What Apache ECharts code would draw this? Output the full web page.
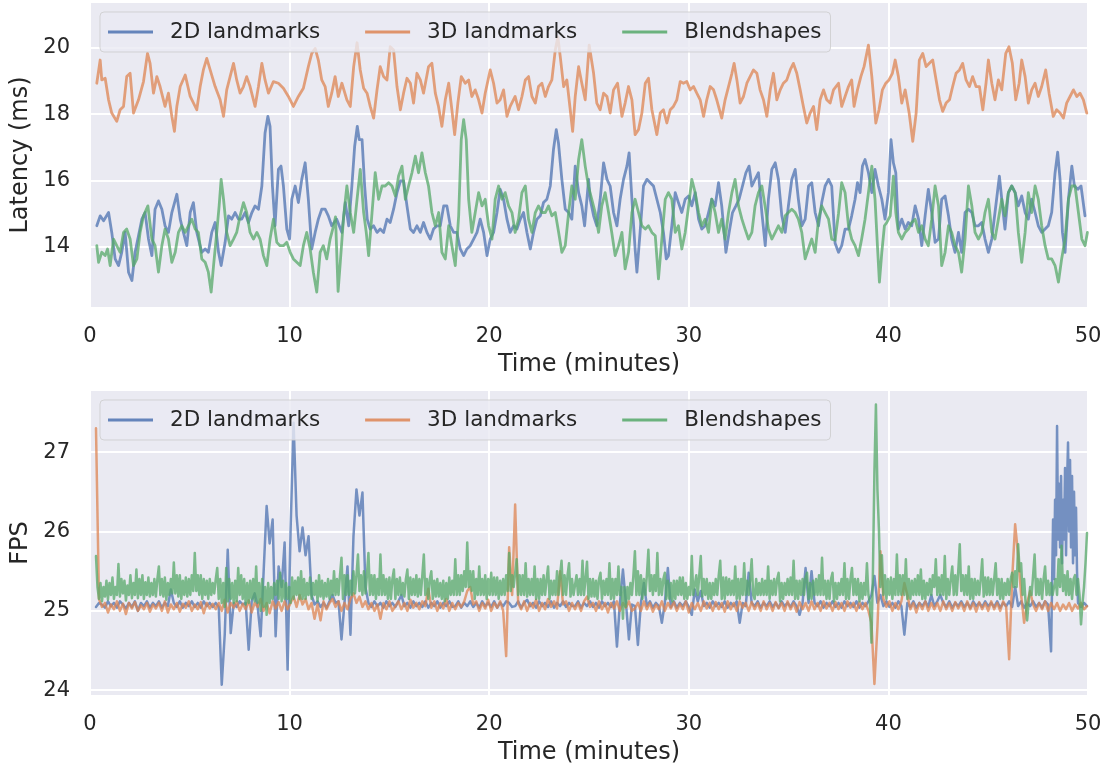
<!DOCTYPE html>
<html>
<head>
<meta charset="utf-8">
<script src="https://cdn.jsdelivr.net/npm/echarts@6/dist/echarts.min.js"></script>
<style>
html,body{margin:0;padding:0;background:#fff;}
#c{width:1107px;height:769px;}
</style>
</head>
<body>
<div id="c"></div>
<script>
// ---------- Top panel: latency (ms) ----------
const lat2dTime = [0.34,0.51,0.68,0.93,1.09,1.26,1.43,1.59,1.76,1.93,2.10,2.26,2.43,2.60,2.76,2.93,3.10,3.26,3.43,3.60,3.76,3.93,4.10,4.35,4.52,4.68,4.85,5.02,5.18,5.35,5.60,5.77,5.93,6.10,6.27,6.44,6.57,6.77,6.94,7.10,7.27,7.44,7.60,7.77,7.94,8.11,8.27,8.44,8.61,8.77,8.91,9.02,9.14,9.27,9.44,9.57,9.69,9.86,10.00,10.11,10.28,10.44,10.61,10.78,10.94,11.11,11.28,11.44,11.61,11.78,11.94,12.11,12.36,12.62,12.79,12.96,13.12,13.26,13.39,13.49,13.63,13.76,13.89,14.04,14.21,14.38,14.54,14.71,14.88,15.04,15.21,15.38,15.55,15.71,15.88,16.05,16.21,16.38,16.55,16.71,16.88,17.05,17.21,17.38,17.55,17.72,17.88,18.05,18.22,18.38,18.55,18.72,18.88,19.05,19.22,19.39,19.55,19.72,19.89,20.05,20.22,20.39,20.55,20.72,20.89,21.05,21.22,21.39,21.56,21.72,21.89,22.06,22.22,22.39,22.56,22.72,22.89,23.06,23.22,23.36,23.47,23.64,23.81,23.98,24.14,24.31,24.48,24.64,24.78,24.98,25.06,25.23,25.39,25.56,25.73,25.90,26.06,26.23,26.40,26.56,26.73,26.90,27.01,27.15,27.31,27.40,27.56,27.73,27.90,28.07,28.23,28.40,28.57,28.73,28.87,28.98,29.15,29.32,29.48,29.65,29.82,29.99,30.15,30.32,30.49,30.65,30.82,30.99,31.15,31.32,31.49,31.65,31.86,32.02,32.19,32.36,32.52,32.69,32.86,33.02,33.16,33.32,33.49,33.66,33.83,33.99,34.16,34.33,34.49,34.66,34.83,34.99,35.16,35.33,35.49,35.66,35.83,36.00,36.16,36.33,36.50,36.66,36.83,37.00,37.16,37.33,37.50,37.66,37.83,38.00,38.16,38.33,38.45,38.58,38.70,38.83,39.00,39.17,39.33,39.50,39.67,39.83,40.00,40.13,40.25,40.37,40.50,40.67,40.84,41.00,41.17,41.34,41.51,41.67,41.84,42.00,42.17,42.34,42.51,42.67,42.84,43.01,43.17,43.34,43.51,43.67,43.84,44.01,44.18,44.34,44.51,44.68,44.84,45.01,45.18,45.34,45.56,45.68,45.84,46.01,46.18,46.35,46.51,46.68,46.85,47.01,47.18,47.35,47.51,47.68,47.85,48.01,48.18,48.35,48.48,48.60,48.72,48.85,49.02,49.19,49.32,49.49,49.65,49.85];
const lat2dMs = [14.63,14.93,14.78,15.03,14.43,13.63,13.43,13.83,14.43,13.23,12.98,13.83,14.33,14.83,15.03,14.23,13.73,15.13,15.38,15.13,14.63,14.43,15.03,15.58,14.83,14.43,14.03,15.03,15.33,14.43,13.83,13.93,13.83,14.43,14.73,13.83,13.43,14.13,14.93,14.83,15.03,14.83,14.83,15.03,14.73,15.03,15.23,15.13,15.83,17.43,17.93,17.63,15.83,14.63,16.33,16.43,15.83,14.53,14.23,15.43,15.83,15.33,16.03,16.53,15.43,13.93,14.43,14.83,15.13,15.13,14.93,14.63,14.83,14.43,15.33,14.63,15.83,17.03,17.63,17.23,17.23,15.83,14.83,14.53,14.63,14.43,14.53,14.43,14.83,14.73,15.13,15.63,15.98,15.98,15.23,14.53,14.43,14.63,14.43,14.73,14.43,14.23,14.53,14.63,14.63,15.23,15.23,14.63,14.43,14.43,13.93,13.73,13.93,14.03,14.23,14.43,14.83,14.43,13.73,14.23,14.43,15.03,15.73,15.43,14.83,14.43,14.63,14.53,14.83,15.03,14.43,13.93,14.43,14.83,14.93,15.33,15.43,15.83,16.93,17.53,17.13,16.03,15.13,15.03,14.83,16.43,15.63,15.23,14.63,16.03,15.43,14.93,14.63,15.43,16.53,16.03,15.83,15.03,14.63,15.43,16.03,16.43,16.83,15.43,13.93,13.23,14.43,15.83,16.03,15.93,15.83,15.43,15.03,14.43,13.63,13.73,14.63,15.63,15.33,15.03,15.43,15.53,15.23,15.63,14.83,14.53,14.63,15.03,15.43,15.23,15.93,15.23,13.83,14.43,15.03,15.23,15.43,15.83,16.23,16.43,15.83,16.03,16.23,15.03,14.03,15.43,16.33,16.53,16.03,14.93,14.43,15.23,16.03,16.33,15.43,14.63,14.83,15.83,15.93,15.03,14.63,15.33,15.83,16.03,15.83,14.10,13.83,14.03,14.53,14.53,14.93,15.43,15.93,15.63,16.43,16.63,16.23,15.63,16.33,15.83,15.43,14.83,15.63,17.23,16.53,16.23,14.53,14.83,14.53,14.73,14.63,15.23,14.83,14.03,14.93,15.73,15.03,14.13,14.23,15.43,15.53,14.93,14.23,13.83,14.43,13.83,15.03,15.13,15.03,14.63,14.63,14.73,14.23,13.83,14.23,15.03,16.13,15.43,14.53,15.63,15.83,15.63,15.23,15.53,15.03,14.83,15.43,15.03,14.63,14.43,14.53,14.63,15.03,16.23,16.85,16.03,14.43,13.83,15.43,16.43,15.83,15.73,15.83,14.93];

const lat3dTime = [0.34,0.51,0.59,0.76,0.93,1.09,1.34,1.51,1.68,1.84,2.01,2.18,2.43,2.68,2.88,3.01,3.18,3.35,3.51,3.76,3.93,4.10,4.23,4.35,4.52,4.77,5.02,5.35,5.52,5.68,5.85,6.02,6.27,6.52,6.69,6.85,7.02,7.19,7.35,7.52,7.69,7.85,8.02,8.27,8.44,8.61,8.77,8.94,9.19,9.44,9.69,9.94,10.19,10.44,10.69,10.94,11.11,11.28,11.44,11.61,11.78,11.94,12.11,12.28,12.44,12.62,12.87,13.04,13.21,13.38,13.54,13.71,13.88,14.04,14.21,14.38,14.54,14.71,14.88,15.04,15.21,15.38,15.55,15.71,15.88,16.05,16.21,16.38,16.55,16.71,16.96,17.13,17.30,17.46,17.63,17.80,17.97,18.13,18.27,18.43,18.60,18.80,18.97,19.13,19.30,19.47,19.64,19.80,20.05,20.22,20.39,20.55,20.72,20.89,21.05,21.30,21.47,21.64,21.81,21.97,22.14,22.31,22.47,22.64,22.81,22.97,23.14,23.31,23.44,23.56,23.73,23.89,24.06,24.18,24.31,24.48,24.64,24.81,25.01,25.23,25.39,25.56,25.73,25.90,26.06,26.23,26.43,26.65,26.81,26.98,27.15,27.31,27.48,27.65,27.82,27.98,28.15,28.40,28.57,28.73,28.90,29.07,29.23,29.40,29.57,29.73,29.90,30.07,30.24,30.40,30.57,30.74,30.90,31.07,31.24,31.40,31.65,31.82,31.99,32.16,32.27,32.41,32.57,32.74,32.91,33.07,33.24,33.41,33.57,33.74,33.91,34.08,34.24,34.41,34.58,34.74,34.91,35.08,35.24,35.41,35.58,35.74,35.91,36.08,36.25,36.41,36.58,36.75,36.91,37.08,37.25,37.50,37.66,37.83,38.00,38.16,38.28,38.45,38.62,38.78,39.00,39.17,39.37,39.53,39.70,39.87,40.03,40.20,40.34,40.50,40.67,40.84,41.04,41.22,41.39,41.55,41.72,41.89,42.05,42.22,42.39,42.56,42.72,42.89,43.06,43.22,43.39,43.56,43.72,43.89,44.06,44.22,44.39,44.56,44.73,44.89,45.01,45.18,45.34,45.51,45.68,45.88,46.04,46.21,46.38,46.55,46.68,46.85,47.01,47.18,47.35,47.51,47.68,47.88,48.05,48.26,48.43,48.60,48.77,48.93,49.10,49.27,49.44,49.60,49.77,49.94];
const lat3dMs = [18.93,19.63,19.03,19.08,18.43,18.03,17.78,18.13,18.23,19.13,19.23,18.03,18.43,18.98,19.83,19.53,18.63,19.13,18.83,18.23,18.63,17.93,17.48,18.23,18.83,19.18,18.53,18.13,18.83,19.33,19.68,19.33,18.83,18.43,17.93,18.73,19.13,19.53,19.03,18.63,18.83,19.13,18.83,18.23,18.83,19.53,19.03,18.63,18.98,18.93,18.78,18.53,18.23,18.53,18.78,19.43,19.83,19.98,19.63,19.03,18.83,18.23,18.63,19.13,18.53,18.93,18.43,18.23,19.43,20.15,19.33,18.78,18.63,18.23,17.88,18.73,19.43,19.13,19.03,20.03,19.93,18.83,18.13,18.63,19.08,18.93,18.33,19.23,19.03,18.63,19.43,19.53,18.63,18.23,17.63,18.43,18.93,18.13,17.38,18.33,19.13,18.93,19.03,18.53,18.73,18.43,18.03,18.63,19.33,18.93,18.33,18.43,18.73,17.93,18.23,18.53,18.13,18.53,19.03,19.13,18.53,18.33,18.83,18.93,18.53,18.83,19.03,19.93,20.33,19.73,18.83,19.03,18.13,17.48,18.53,19.43,18.93,18.43,20.08,19.23,18.33,18.13,18.63,18.53,18.03,18.73,18.93,17.93,18.33,18.83,18.43,17.38,17.53,18.03,18.93,19.08,18.13,17.38,18.03,18.13,17.73,18.13,18.23,18.43,18.98,18.93,18.98,18.73,18.83,18.63,18.43,17.93,18.43,18.83,18.73,18.43,17.88,18.43,18.83,19.23,19.53,19.03,18.33,18.53,18.93,19.13,19.33,19.23,18.73,18.43,17.93,18.73,19.23,18.43,18.73,18.93,19.03,19.33,19.53,19.23,18.73,18.23,17.73,18.03,18.23,17.53,18.43,18.73,18.43,18.33,18.73,18.93,18.23,18.53,18.83,19.03,18.23,18.73,19.13,19.43,20.08,19.13,17.73,18.13,18.73,18.93,19.03,19.23,19.63,19.13,18.33,18.73,18.03,17.18,18.03,19.63,19.83,19.43,19.53,19.63,19.03,18.43,18.08,18.33,18.43,18.83,19.23,19.33,19.53,19.03,18.83,19.13,18.83,18.83,18.13,18.93,19.63,18.93,18.43,19.03,18.73,19.83,20.03,19.53,18.43,18.93,19.63,19.13,18.33,18.73,18.93,18.53,18.83,19.33,18.63,17.93,18.13,18.03,17.88,18.33,18.53,18.73,18.53,18.63,18.43,18.03];

const latBsTime = [0.34,0.43,0.59,0.76,0.88,1.01,1.18,1.34,1.51,1.68,1.84,2.01,2.18,2.35,2.51,2.68,2.90,3.10,3.26,3.43,3.60,3.76,3.93,4.10,4.27,4.43,4.60,4.77,4.93,5.10,5.27,5.43,5.60,5.77,5.93,6.07,6.19,6.35,6.47,6.57,6.69,6.85,7.02,7.19,7.35,7.52,7.69,7.85,8.02,8.19,8.36,8.52,8.69,8.86,9.02,9.19,9.36,9.52,9.69,9.86,10.03,10.19,10.36,10.53,10.69,10.86,11.03,11.19,11.36,11.53,11.69,11.86,12.03,12.19,12.30,12.43,12.54,12.71,12.87,13.04,13.21,13.38,13.54,13.71,13.84,13.96,14.13,14.29,14.46,14.63,14.79,14.96,15.13,15.30,15.46,15.63,15.80,15.96,16.13,16.30,16.46,16.63,16.80,16.96,17.13,17.30,17.47,17.63,17.80,17.97,18.13,18.30,18.47,18.60,18.72,18.85,18.97,19.13,19.30,19.47,19.64,19.80,19.97,20.14,20.30,20.47,20.64,20.80,20.97,21.14,21.30,21.47,21.64,21.81,21.97,22.14,22.31,22.47,22.64,22.81,22.97,23.14,23.31,23.48,23.64,23.81,23.98,24.14,24.31,24.48,24.64,24.81,24.98,25.14,25.31,25.48,25.64,25.81,25.98,26.14,26.31,26.48,26.65,26.81,26.98,27.15,27.31,27.48,27.65,27.82,27.98,28.15,28.32,28.48,28.65,28.82,28.98,29.15,29.32,29.48,29.65,29.82,29.99,30.15,30.32,30.49,30.65,30.82,30.99,31.15,31.32,31.49,31.65,31.82,31.99,32.16,32.32,32.49,32.66,32.82,32.99,33.16,33.32,33.49,33.66,33.82,33.99,34.16,34.33,34.49,34.66,34.83,34.99,35.16,35.33,35.49,35.66,35.83,35.99,36.16,36.33,36.50,36.66,36.83,37.00,37.16,37.33,37.50,37.66,37.83,38.00,38.16,38.33,38.50,38.66,38.83,39.00,39.17,39.33,39.45,39.55,39.67,39.80,39.92,40.09,40.25,40.37,40.50,40.67,40.84,41.00,41.17,41.34,41.51,41.67,41.84,42.00,42.17,42.34,42.51,42.67,42.84,43.01,43.17,43.34,43.51,43.67,43.84,44.01,44.18,44.34,44.51,44.68,44.84,45.01,45.18,45.34,45.51,45.68,45.84,46.01,46.18,46.35,46.51,46.68,46.85,47.01,47.18,47.35,47.51,47.68,47.85,48.01,48.18,48.35,48.52,48.68,48.85,49.02,49.19,49.35,49.52,49.69,49.85,49.97];
const latBsMs = [14.03,13.53,13.83,13.73,13.93,13.43,14.23,14.03,13.83,14.43,14.53,14.23,13.43,13.63,14.43,14.93,15.23,14.23,14.03,13.23,14.03,14.53,14.23,13.53,13.83,14.43,14.63,14.43,14.63,14.83,14.53,14.43,13.63,13.53,13.23,12.63,13.43,14.43,15.23,16.03,15.43,14.43,14.03,14.23,14.43,14.93,15.33,15.03,14.43,14.23,14.43,14.23,13.73,13.43,14.23,14.83,14.13,14.03,14.03,14.13,13.83,13.63,13.53,13.43,14.03,14.43,13.93,13.23,12.63,13.83,14.03,13.63,14.23,14.60,14.90,12.65,13.53,14.93,15.83,15.03,14.43,15.43,16.33,15.03,14.43,13.73,15.03,16.23,15.43,15.83,15.83,15.93,15.83,15.53,16.13,16.43,15.43,15.83,16.23,16.73,16.23,16.83,16.23,15.83,15.03,14.63,15.03,13.83,13.63,14.63,14.03,13.43,14.93,17.23,17.83,17.23,15.43,14.43,15.03,15.63,15.23,15.43,14.63,14.23,15.43,15.83,15.43,15.63,15.23,15.03,14.43,14.83,15.63,15.83,14.83,14.43,15.03,15.23,15.03,15.03,15.23,14.93,15.03,14.43,13.83,14.03,15.03,15.83,15.43,16.63,17.23,16.43,15.80,15.43,15.03,14.43,15.23,15.63,15.03,14.43,13.73,14.03,14.43,13.33,13.83,15.03,15.43,15.03,14.63,14.53,14.63,14.43,14.33,13.03,14.23,15.43,15.63,15.43,14.43,14.63,13.93,14.43,15.23,16.03,15.63,15.03,14.63,14.83,14.43,15.43,15.03,14.43,14.83,14.23,15.03,15.63,16.03,15.23,14.83,14.53,14.23,14.43,15.23,15.63,15.83,15.23,14.53,14.23,14.43,14.63,14.43,14.93,15.03,15.13,15.03,14.83,14.43,13.63,13.93,14.23,13.83,14.83,15.23,15.03,14.83,14.23,14.20,15.00,15.93,15.63,14.63,14.23,14.03,13.73,14.23,14.83,15.63,16.43,15.43,14.03,12.93,13.83,14.63,14.73,14.93,16.13,15.03,14.43,14.23,14.43,14.53,14.73,14.83,14.43,14.63,14.23,14.03,14.83,15.83,15.23,13.43,13.83,14.63,14.43,14.03,13.83,13.23,14.23,15.83,15.23,14.43,14.23,14.43,15.03,15.43,14.43,14.23,14.83,15.43,14.93,15.63,15.83,15.63,14.43,13.53,14.43,15.63,15.03,15.83,15.43,14.63,14.03,13.63,13.63,13.43,12.93,13.63,14.23,15.43,15.83,15.83,15.03,14.23,14.03,14.43];

// ---------- Bottom panel: FPS ----------
// 2D / 3D landmarks sampled every 0.15 min from 0.3 min; Blendshapes every 0.075 min.
// The 2D burst near 48-49.5 min is read at 0.05 min, followed by a short tail.
const fpsStart = 0.3;
const fpsStep = 0.15;
const fpsBsStep = 0.075;
const fps2dBurstStart = 48.25;
const fps2dBurstStep = 0.05;
const fps2dTailStart = 49.65;
const fps2d = [
25.05,25.1,25.08,25.04,25.12,25.06,25.1,25.04,25.12,25.08,25.03,25.1,25.05,25.12,25.0,25.1,25.06,25.12,25.04,25.1,
25.06,25.12,25.04,25.1,25.06,25.27,25.1,25.05,25.12,25.04,25.1,25.06,25.12,25.05,25.1,25.04,25.12,25.06,25.1,25.05,
25.1,25.05,24.07,24.7,25.77,24.72,25.1,25.05,25.12,25.08,25.1,24.51,25.12,25.22,25.05,24.68,25.5,26.32,25.85,26.15,
24.68,25.56,25.3,25.86,24.26,26.03,27.37,26.2,25.75,26.05,25.7,25.94,25.2,25.08,25.12,25.05,25.1,25.04,25.12,25.2,
25.1,25.12,24.64,25.1,25.56,24.7,25.94,26.53,26.2,26.49,25.3,25.1,25.05,25.12,25.06,25.1,25.04,25.12,25.06,25.1,
25.05,25.12,25.2,25.06,25.1,25.04,25.12,25.06,25.1,25.05,25.12,25.04,25.1,25.06,25.12,25.04,25.1,25.06,25.12,25.05,
25.06,25.12,25.04,25.1,25.06,25.12,25.05,25.1,25.04,25.12,25.06,25.1,25.05,25.12,25.04,25.1,25.06,25.12,25.1,25.05,
25.06,25.12,25.04,25.1,25.14,25.06,25.1,25.04,25.12,25.06,25.1,25.05,25.12,25.04,25.1,25.06,25.12,25.05,25.1,25.06,
25.06,25.12,25.04,25.1,25.06,25.12,25.05,25.1,25.04,25.12,25.06,25.1,25.05,25.12,24.55,25.1,25.52,25.1,24.64,25.08,
25.06,24.57,25.1,25.35,25.06,25.12,25.04,25.1,25.06,24.85,25.1,25.54,25.05,25.12,25.04,25.1,25.06,25.12,25.05,24.95,
25.27,25.12,25.25,25.06,25.1,25.04,25.12,25.06,25.1,25.05,25.12,25.04,25.1,25.06,25.12,24.85,25.1,25.06,25.48,25.1,
25.06,25.12,25.04,25.1,25.06,25.12,25.05,25.1,25.04,25.12,25.06,25.1,25.05,25.12,25.06,24.95,25.1,25.54,25.1,25.5,
25.1,25.06,25.12,25.04,25.1,25.06,25.12,25.05,25.1,25.04,25.12,25.06,25.1,25.05,25.12,25.04,25.1,25.06,25.12,25.2,
25.44,25.1,25.2,25.06,25.12,25.05,25.1,25.04,25.12,25.06,24.7,25.1,25.05,25.12,25.04,25.1,25.06,25.12,25.05,25.2,
25.06,25.12,25.2,25.1,25.05,25.12,25.04,25.1,25.06,25.12,25.05,25.1,25.04,25.12,25.06,25.1,25.05,25.12,25.06,25.1,
25.05,25.12,25.04,25.1,25.06,25.12,25.05,25.3,25.06,25.12,25.04,25.1,25.06,25.12,25.05,25.1,25.04,25.12,25.08,24.49];
const fps2dBurst = [26.15,25.4,26.4,25.7,27.33,25.9,26.6,25.8,26.7,25.6,26.4,25.9,26.8,25.7,26.6,27.12,26.0,26.9,25.8,26.7,25.6,26.5,25.7,26.3,25.5,25.1];
const fps2dTail = [25.05,25.1,25.06];
const fps3d = [
27.3,25.15,25.05,25.1,24.98,25.08,25.02,25.12,25.0,25.09,24.96,25.1,25.03,25.11,25.0,25.07,25.02,25.1,24.99,25.08,
25.03,25.1,25.0,25.12,24.98,25.08,25.02,25.1,24.99,25.09,25.04,25.12,25.0,25.08,25.02,25.11,24.97,25.1,25.03,25.09,
25.02,25.1,25.0,25.14,24.98,25.1,25.04,25.12,25.0,25.09,25.02,25.13,24.98,25.1,25.05,25.15,25.0,25.1,24.97,25.12,
25.03,25.11,25.0,25.12,25.02,25.1,25.18,25.05,25.2,25.08,25.15,25.02,25.1,24.9,25.08,24.88,25.12,25.02,25.1,25.15,
25.05,25.12,25.0,25.1,25.02,25.15,25.22,25.1,25.18,25.05,25.12,25.02,25.1,25.0,25.08,24.9,25.1,25.02,25.12,25.0,
25.06,25.12,25.02,25.1,25.0,25.14,25.04,25.1,25.02,25.12,25.06,25.28,25.04,25.12,25.0,25.1,25.03,25.15,25.0,25.1,
25.02,25.1,25.05,25.12,25.25,25.3,25.08,25.12,25.0,25.1,25.03,25.14,25.0,25.1,25.04,25.12,25.0,24.43,25.8,25.2,
26.34,25.1,25.02,25.12,25.0,25.1,25.04,25.14,25.0,25.1,25.02,25.15,25.05,25.12,25.03,25.5,25.08,25.12,25.0,25.1,
25.02,25.1,25.0,25.12,25.18,25.05,25.1,25.0,25.12,25.02,25.1,24.98,25.1,25.03,25.12,25.0,25.1,25.04,25.12,25.0,
25.03,25.1,25.0,25.12,25.02,25.1,24.99,25.08,25.02,25.12,25.0,25.1,25.03,25.11,25.0,25.09,25.02,25.12,24.98,25.1,
25.02,25.1,25.0,25.12,25.03,25.1,25.0,25.11,25.02,25.1,24.99,25.12,25.02,25.1,25.0,25.12,25.04,25.1,25.0,25.11,
25.02,25.1,25.0,25.12,25.02,25.1,25.0,25.11,25.03,25.1,25.0,25.12,25.02,25.1,24.99,25.11,25.02,25.1,25.0,25.12,
25.02,25.1,25.0,25.12,25.03,25.1,25.0,25.11,25.02,25.1,25.0,25.12,25.04,25.1,25.0,25.11,25.02,25.1,25.0,24.85,
24.08,24.8,25.75,25.15,25.05,25.12,25.0,25.1,25.02,25.12,25.35,25.2,25.02,25.1,24.98,25.1,25.02,25.12,25.0,25.1,
25.02,25.1,25.0,25.12,25.02,25.1,25.0,25.11,25.03,25.1,25.0,25.12,25.02,25.1,24.99,25.11,25.02,25.1,25.0,25.12,
25.02,25.1,25.0,25.12,25.05,24.39,25.4,26.09,25.7,25.2,24.85,25.1,25.25,25.08,25.0,25.1,25.02,25.12,25.0,25.1,
25.02,25.1,25.0,25.08,25.02,25.1,25.0,25.08,25.03,25.1,25.02,25.06];
const fpsBs = [
25.69,25.3,25.15,25.35,25.12,25.3,25.18,25.38,25.14,25.35,25.2,25.42,25.15,25.3,25.2,25.59,25.18,25.4,25.22,25.38,25.13,25.32,25.2,25.45,25.16,25.35,25.2,25.52,25.16,25.4,25.2,25.45,25.15,25.36,25.2,25.42,25.18,25.35,25.2,25.4,
25.18,25.4,25.56,25.2,25.4,25.18,25.42,25.14,25.35,25.2,25.4,25.22,25.61,25.22,25.45,25.18,25.45,25.15,25.38,25.2,25.42,25.18,25.4,25.2,25.45,25.25,25.73,25.25,25.45,25.2,25.45,25.15,25.4,25.2,25.38,25.15,25.4,25.2,25.35,25.22,
25.4,25.54,25.15,25.4,25.1,25.35,25.05,25.54,25.12,25.4,25.15,25.35,25.1,25.38,25.12,25.54,25.2,25.45,25.15,25.4,25.08,25.35,25.1,25.38,25.15,25.4,25.12,25.56,25.1,25.35,25.0,25.4,25.05,25.3,24.95,25.35,25.1,25.3,25.15,25.35,
25.2,25.38,25.15,25.48,25.12,25.38,25.15,25.35,25.15,25.3,25.1,25.42,25.15,25.38,25.2,25.42,25.15,25.5,25.15,25.4,25.15,25.35,25.2,25.42,25.15,25.35,25.2,25.38,25.12,25.45,25.18,25.38,25.15,25.35,25.18,25.4,25.15,25.38,25.2,25.5,
25.2,25.4,25.2,25.45,25.67,25.15,25.45,25.2,25.45,25.2,25.38,25.2,25.5,25.22,25.45,25.71,25.25,25.45,25.2,25.5,25.22,25.45,25.73,25.2,25.45,25.2,25.45,25.15,25.4,25.2,25.71,25.2,25.45,25.2,25.4,25.15,25.42,25.15,25.4,25.52,
25.15,25.4,25.2,25.42,25.2,25.35,25.18,25.4,25.52,25.15,25.42,25.2,25.4,25.2,25.45,25.18,25.4,25.2,25.45,25.71,25.2,25.4,25.15,25.4,25.5,25.15,25.38,25.18,25.4,25.18,25.35,25.15,25.38,25.12,25.35,25.15,25.42,25.2,25.38,25.2,
25.65,25.2,25.45,25.2,25.45,25.25,25.5,25.3,25.86,25.3,25.5,25.25,25.5,25.15,25.4,25.2,25.56,25.2,25.4,25.2,25.45,25.15,25.4,25.2,25.48,25.2,25.42,25.2,25.42,25.15,25.38,25.2,25.4,25.2,25.45,25.25,25.73,25.25,25.45,25.3,
25.3,25.65,25.2,25.45,25.2,25.45,25.2,25.6,25.18,25.4,25.2,25.4,25.2,25.56,25.15,25.4,25.15,25.4,25.2,25.45,25.2,25.4,25.56,25.15,25.38,25.2,25.38,25.2,25.5,25.2,25.45,25.63,25.2,25.45,25.2,25.45,25.6,25.18,25.4,25.2,
25.2,25.45,25.2,25.4,25.2,25.63,25.2,25.4,25.62,25.15,25.4,25.18,25.4,25.18,25.38,25.15,25.4,25.48,25.15,25.38,25.2,25.4,25.2,25.6,25.15,25.4,25.15,25.4,25.2,25.56,25.2,25.3,24.9,25.3,25.05,25.3,25.15,25.35,25.2,25.45,
25.75,25.2,25.5,25.2,25.45,25.15,25.4,25.2,25.45,25.77,25.25,25.45,25.2,25.45,25.25,25.73,25.2,25.4,25.2,25.4,25.48,25.15,25.38,25.15,25.35,25.12,25.38,25.15,25.38,25.2,25.42,25.2,25.42,25.15,25.35,25.15,25.3,25.2,25.69,25.2,
25.2,25.45,25.2,25.45,25.69,25.18,25.4,25.2,25.4,25.15,25.35,25.15,25.35,25.2,25.4,25.2,25.45,25.63,25.15,25.42,25.15,25.42,25.2,25.4,25.2,25.38,25.2,25.56,25.15,25.4,25.15,25.4,25.2,25.6,25.2,25.38,25.2,25.4,25.65,25.2,
25.15,25.4,25.2,25.35,25.2,25.4,25.2,25.38,25.2,25.56,25.15,25.38,25.2,25.4,25.2,25.4,25.48,25.12,25.35,25.15,25.35,25.2,25.4,25.2,25.42,25.2,25.63,25.15,25.38,25.15,25.38,25.2,25.4,25.2,25.42,25.48,25.15,25.35,25.15,25.38,
25.2,25.4,25.2,25.45,25.2,25.67,25.2,25.38,25.15,25.38,25.15,25.4,25.48,25.12,25.35,25.15,25.35,25.2,25.4,25.2,25.6,25.15,25.4,25.15,25.4,25.54,25.2,25.4,25.2,25.4,25.12,25.35,25.15,25.35,25.2,25.6,25.2,25.1,24.6,25.5,
26.76,27.6,26.53,26.03,25.3,25.7,25.2,25.45,25.15,25.4,25.2,25.42,25.15,25.4,25.2,25.71,25.2,25.45,25.2,25.45,25.2,25.65,25.15,25.4,25.15,25.38,25.2,25.4,25.2,25.45,25.2,25.52,25.15,25.38,25.15,25.35,25.2,25.4,25.2,25.45,
25.3,25.65,25.2,25.42,25.2,25.45,25.2,25.69,25.15,25.4,25.2,25.4,25.56,25.2,25.45,25.2,25.5,25.84,25.25,25.45,25.2,25.45,25.2,25.56,25.15,25.4,25.15,25.4,25.2,25.38,25.2,25.4,25.65,25.18,25.42,25.2,25.42,25.2,25.4,25.2,
25.2,25.6,25.2,25.4,25.15,25.4,25.15,25.35,25.2,25.4,25.2,25.4,25.48,25.3,25.5,25.3,25.84,25.5,25.6,25.2,25.4,25.1,24.88,25.1,25.3,25.2,25.45,25.71,25.2,25.4,25.2,25.4,25.15,25.4,25.56,25.2,25.38,25.2,25.35,25.2,
25.2,25.4,25.2,25.65,25.3,25.82,25.25,25.45,25.2,25.5,25.2,25.4,25.15,25.4,25.45,25.2,25.4,25.2,24.83,25.1,25.3,25.6,25.98];

const seriesNames = ['2D landmarks', '3D landmarks', 'Blendshapes'];
const seriesColors = ['#4C72B0', '#DD8452', '#55A868'];
const xTicks = [0, 10, 20, 30, 40, 50];
const latTicks = [14, 16, 18, 20];
const fpsTicks = [24, 25, 26, 27];

// ---------- build ----------
const zipPairs = (t, v) => t.map((x, i) => [x, v[i]]);
const gridPairs = (v, start, step) => v.map((y, i) => [+(start + i * step).toFixed(3), y]);
const fps2dData = gridPairs(fps2d, fpsStart, fpsStep)
  .concat(gridPairs(fps2dBurst, fps2dBurstStart, fps2dBurstStep))
  .concat(gridPairs(fps2dTail, fps2dTailStart, fpsStep));

const FONT = 'DejaVu Sans';
const TXT = '#262626';
const BG = '#EAEAF2';

function xAxisCfg(gi) {
  return {
    gridIndex: gi, type: 'value', min: xTicks[0], max: xTicks[xTicks.length - 1], interval: 10,
    name: 'Time (minutes)', nameLocation: 'middle', nameGap: 46,
    nameTextStyle: { fontSize: 24, color: TXT, fontFamily: FONT },
    axisLine: { show: false }, axisTick: { show: false },
    axisLabel: { fontSize: 21, color: TXT, margin: 19, fontFamily: FONT },
    splitLine: { show: true, lineStyle: { color: '#ffffff', width: 2 } }
  };
}
function yAxisCfg(gi, name, min, max, ticks, gap) {
  return {
    gridIndex: gi, type: 'value', min: min, max: max,
    name: name, nameLocation: 'middle', nameGap: gap,
    nameTextStyle: { fontSize: 24, color: TXT, fontFamily: FONT },
    axisLine: { show: false },
    axisTick: { show: false, customValues: ticks },
    axisLabel: { fontSize: 21, color: TXT, margin: 20, fontFamily: FONT, customValues: ticks },
    splitLine: { show: true, lineStyle: { color: '#ffffff', width: 2 } }
  };
}
function legendCfg(top) {
  return {
    data: seriesNames, left: 100, top: top,
    orient: 'horizontal', itemGap: 45, itemWidth: 45, itemHeight: 3,
    icon: 'rect', padding: [9, 9, 9, 8],
    backgroundColor: 'rgba(234,234,242,0.8)',
    borderColor: 'rgba(204,204,204,0.8)', borderWidth: 1, borderRadius: 4,
    itemStyle: { opacity: 0.85 },
    textStyle: { fontSize: 21.5, color: TXT, fontFamily: FONT, padding: [0, 0, 0, 12] },
    selectedMode: false
  };
}
function lineSeries(name, idx, gi, data, width) {
  return {
    name: name, type: 'line', xAxisIndex: gi, yAxisIndex: gi,
    data: data, showSymbol: false, symbol: 'none', animation: false,
    color: seriesColors[idx],
    lineStyle: { color: seriesColors[idx], width: width, opacity: 0.75, join: 'round', cap: 'round' },
    emphasis: { disabled: true }, z: 2 + idx
  };
}

const chart = echarts.init(document.getElementById('c'), null, { renderer: 'canvas' });
chart.setOption({
  animation: false,
  backgroundColor: '#ffffff',
  textStyle: { fontFamily: FONT },
  grid: [
    { left: 90, top: 3, width: 998, height: 304, show: true, backgroundColor: BG, borderWidth: 0 },
    { left: 90, top: 391, width: 998, height: 304, show: true, backgroundColor: BG, borderWidth: 0 }
  ],
  legend: [legendCfg(12), legendCfg(400)],
  xAxis: [xAxisCfg(0), xAxisCfg(1)],
  yAxis: [
    yAxisCfg(0, 'Latency (ms)', 12.18, 21.35, latTicks, 56),
    yAxisCfg(1, 'FPS', 23.94, 27.77, fpsTicks, 56)
  ],
  series: [
    lineSeries(seriesNames[0], 0, 0, zipPairs(lat2dTime, lat2dMs), 2.8),
    lineSeries(seriesNames[1], 1, 0, zipPairs(lat3dTime, lat3dMs), 2.8),
    lineSeries(seriesNames[2], 2, 0, zipPairs(latBsTime, latBsMs), 2.8),
    lineSeries(seriesNames[0], 0, 1, fps2dData, 2.5),
    lineSeries(seriesNames[1], 1, 1, gridPairs(fps3d, fpsStart, fpsStep), 2.5),
    lineSeries(seriesNames[2], 2, 1, gridPairs(fpsBs, fpsStart, fpsBsStep), 2.5)
  ]
});
</script>
</body>
</html>
